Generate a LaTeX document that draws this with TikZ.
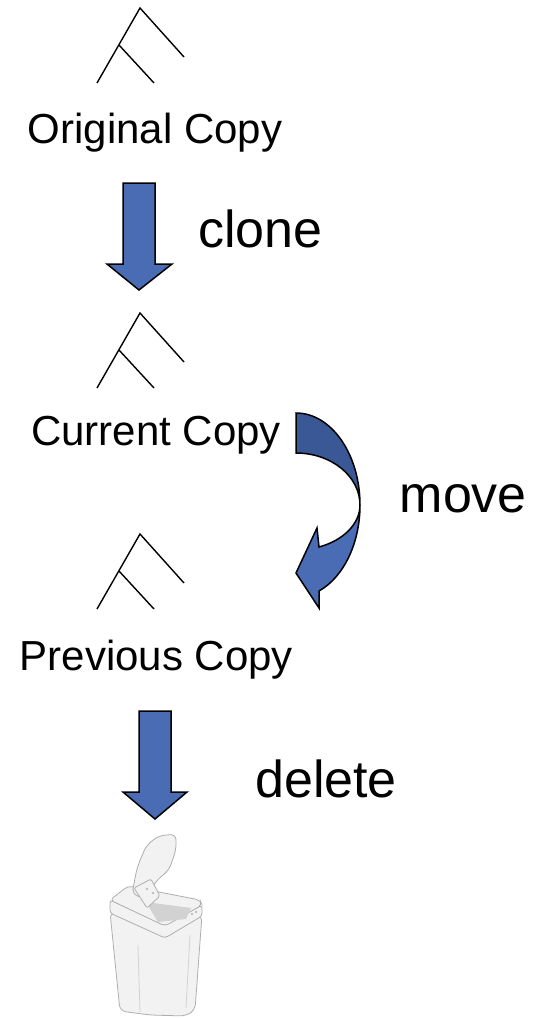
\documentclass[tikz,border=0pt]{standalone}
\usepackage{fontspec}
\setmainfont{Liberation Sans}
\definecolor{arrowblue}{RGB}{74,108,180}
\definecolor{arrowdark}{RGB}{58,88,150}
\definecolor{tcfill}{RGB}{242,242,242}
\definecolor{tcline}{RGB}{175,175,175}
\definecolor{tcdark}{RGB}{210,210,210}
\tikzset{
  copylbl/.style={font=\fontsize{42}{50}\selectfont, inner sep=0pt, anchor=base},
  actlbl/.style={font=\fontsize{52}{60}\selectfont, inner sep=0pt, anchor=base west},
  treeline/.style={draw=black, line width=1.4pt},
  blockarrow/.style={fill=arrowblue, draw=black, line width=1.5pt, line join=miter},
  curvedark/.style={fill=arrowdark, draw=black, line width=1.5pt, line join=miter},
  trash/.style={fill=tcfill, draw=tcline, line width=0.8pt},
}
\newcommand{\drawtree}{%
  \draw[treeline] (97,83) -- (140,8) -- (184,57);
  \draw[treeline] (119,45) -- (154,83);
}
\begin{document}
\begin{tikzpicture}[x=1pt,y=-1pt]
\useasboundingbox[fill=white] (0,0) rectangle (537,1018);

% trees
\drawtree
\begin{scope}[shift={(0,305)}]\drawtree\end{scope}
\begin{scope}[shift={(0,526)}]\drawtree\end{scope}

% labels
\node[copylbl] (orig) at (155,143) {Original Copy};
\node[copylbl] (cur) at (156,445) {Current Copy};
\node[copylbl] (prev) at (156.5,670) {Previous Copy};
\node[actlbl] (clone) at (198,247) {clone};
\node[actlbl] (move) at (399.5,512.7) {move};
\node[actlbl] (del) at (255,797) {delete};

% clone arrow
\draw[blockarrow] (123,183) -- (155,183) -- (155,264) -- (172,264) -- (139,290) -- (107,264) -- (123,264) -- cycle;
% delete arrow
\draw[blockarrow] (139,711) -- (171,711) -- (171,792) -- (187,792) -- (155,819) -- (123,792) -- (139,792) -- cycle;

% curved move arrow
\draw[curvedark] (296,413) .. controls (331.3,413) and (360,454.2) .. (360,505)
   .. controls (360,476.3) and (331.3,453) .. (296,453) -- cycle;
\draw[blockarrow] (360,505) .. controls (360,523.6) and (343.7,540.3) .. (319,547)
   -- (317,528) -- (296,573) -- (319,608) -- (319,591)
   .. controls (343.7,577.1) and (360,543.1) .. (360,505) -- cycle;

% trash can
\draw[trash, rounded corners=6pt] (110,912) -- (165,936) -- (202,915) -- (195,1010) -- (186,1016) -- (150,1015) -- (120,1011) -- cycle;
\draw[tcdark, line width=0.8pt] (138,945) -- (140,1012);
\draw[tcdark, line width=0.8pt] (190,935) -- (186,1008);
\draw[trash, rounded corners=3pt] (110,900) -- (165,925) -- (202,905) -- (202,916) -- (165,938) -- (110,913) -- cycle;
\draw[trash, rounded corners=4pt] (110,900) -- (128,886) -- (200,900) -- (202,905) -- (165,926) -- cycle;
\fill[tcdark] (146,902) -- (191,908) -- (186,919) -- (158,922) -- cycle;
\draw[trash, rounded corners=6pt] (132,894) -- (137,868) -- (146,846) -- (158,836) -- (176,834) -- (176,850) -- (169,870) -- (156,881) -- (146,899) -- cycle;
\draw[trash, rounded corners=2pt] (134,888) -- (151,879) -- (160,896) -- (147,908) -- cycle;
\fill[tcline] (147,889) circle (1.2) (153,893) circle (1.2) (192,914) circle (1.2) (196,912) circle (1.2);
\end{tikzpicture}
\end{document}
